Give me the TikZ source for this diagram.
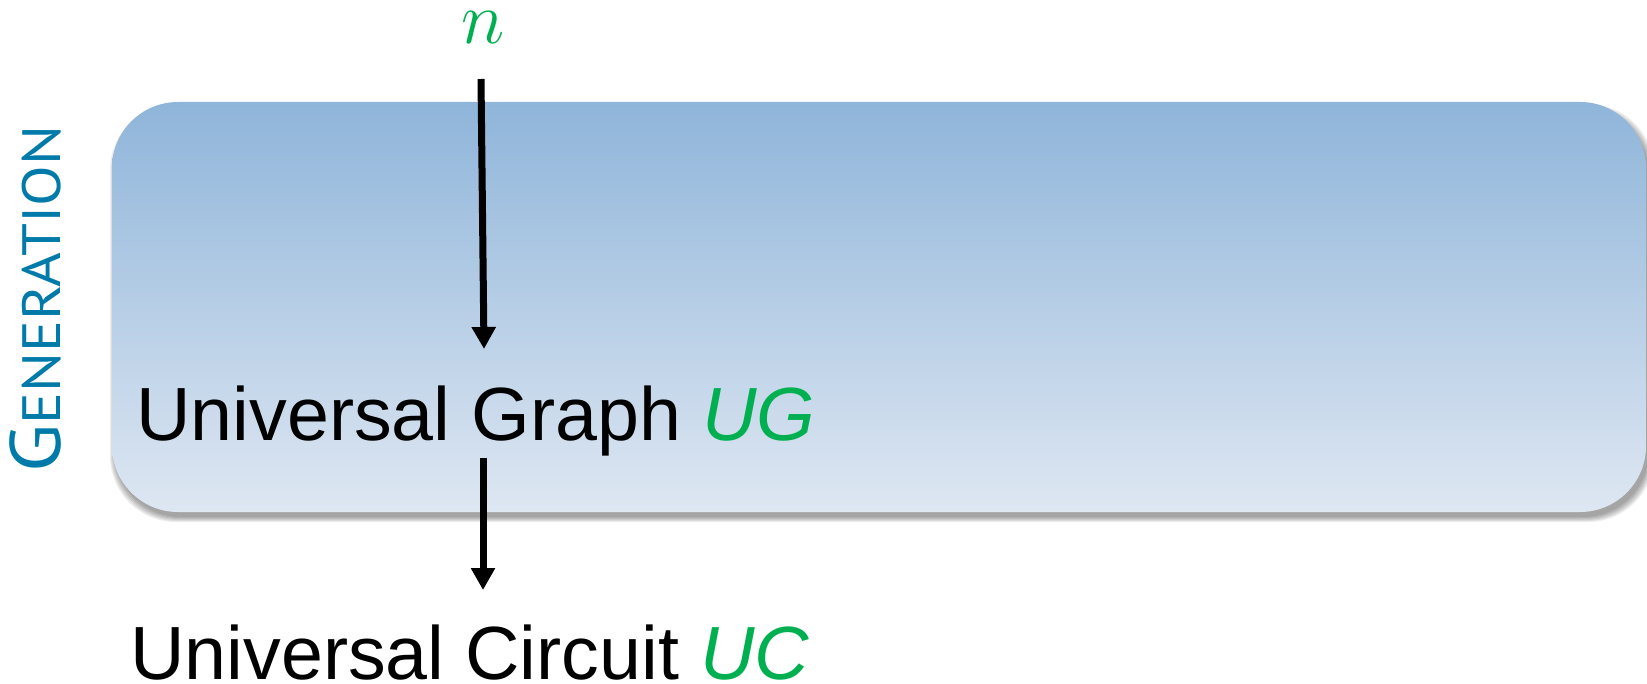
\RequirePackage{fix-cm}
\documentclass[tikz,border=0pt]{standalone}
\usepackage{fontspec}
\setmainfont{Liberation Sans}
\newfontfamily\sidefont{PT Sans}
\usetikzlibrary{arrows.meta}
\definecolor{ucgreen}{RGB}{0,176,80}
\definecolor{sideblue}{RGB}{0,122,168}
\definecolor{boxtop}{RGB}{143,181,218}
\definecolor{boxbot}{RGB}{222,231,242}
\begin{document}
\begin{tikzpicture}[x=0.5pt,y=-0.5pt,
  txt/.style={inner sep=0pt, anchor=base west, font=\fontsize{37.7}{40}\selectfont},
  flow/.style={line width=3.5pt, -{Triangle[width=11.5pt,length=11pt]}},
  stage/.style={inner sep=0pt, rounded corners=33pt, top color=boxtop, bottom color=boxbot,
    minimum width=767pt, minimum height=205pt},
  ]
\useasboundingbox (0,0) rectangle (1647,684);

% soft drop shadow under the stage box
\foreach \k in {0,...,5}
  \fill[black, opacity=0.07, rounded corners=33pt]
    (115-\k,109-\k) rectangle (1649+\k,517+\k);

% stage box
\node[stage] (gen) at (879,307) {};

% side label
\node[rotate=90, anchor=base, text=sideblue, inner sep=0pt] (side) at (60,299)
  {\scalebox{1.1}[1]{\sidefont\fontsize{35.7}{36}\selectfont G\fontsize{27}{27}\selectfont ENERATION}};

% input and outputs
\node[inner sep=0pt, anchor=base, text=ucgreen, font=\fontsize{37}{40}\selectfont] (n) at (483,44) {$n$};
\node[txt] (ug) at (136,440) {Universal Graph \textcolor{ucgreen}{\itshape UG}};
\node[txt] (uc) at (130,679) {Universal Circuit \textcolor{ucgreen}{\itshape UC}};

% arrow end points
\coordinate (a1s) at (481,79);
\coordinate (a1e) at (484,349);
\coordinate (a2s) at (483,458);
\coordinate (a2e) at (483,590);

\draw[flow] (a1s) -- (a1e);
\draw[flow] (a2s) -- (a2e);
\end{tikzpicture}
\end{document}
